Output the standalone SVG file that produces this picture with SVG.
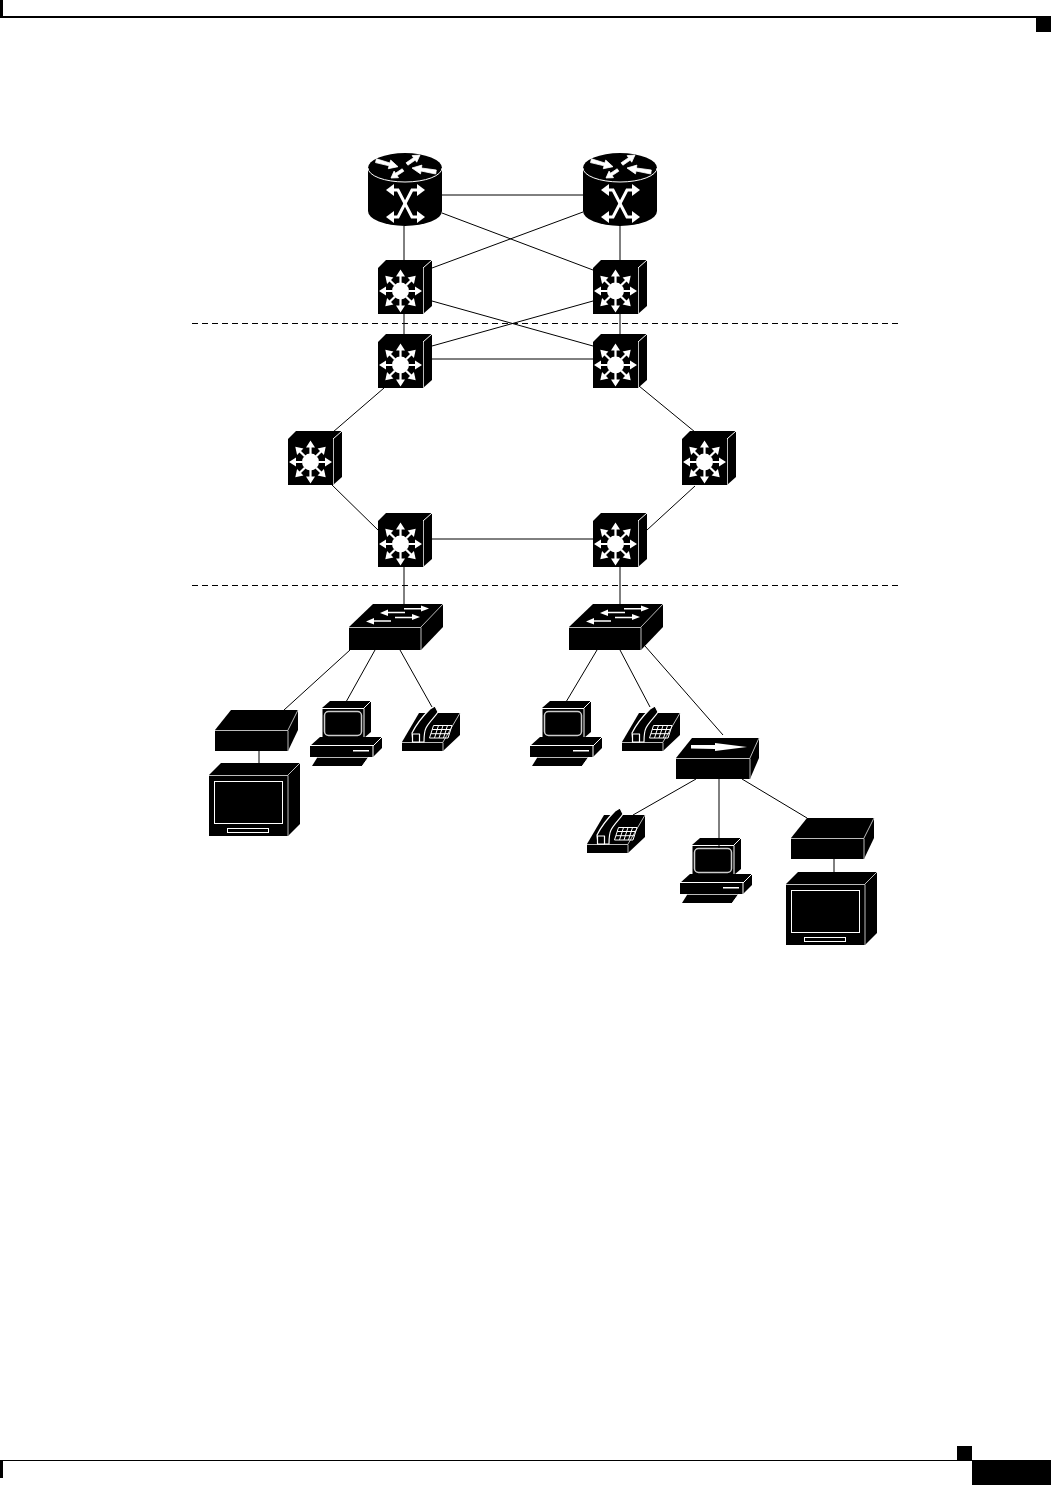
<svg xmlns="http://www.w3.org/2000/svg" xmlns:xlink="http://www.w3.org/1999/xlink" width="1051" height="1485" viewBox="0 0 1051 1485">
<style>
.c{stroke:#000;stroke-width:1;fill:none}
.d{stroke:#000;stroke-width:1;fill:none;stroke-dasharray:6 4}
.k{fill:#000}
.w{fill:#fff}
.ws{fill:#fff;stroke:#fff;stroke-width:0.800}
.o{fill:none;stroke:#fff;stroke-width:1}
.g{fill:none;stroke:#bbb;stroke-width:1}
.s{fill:none;stroke:#ccc;stroke-width:1.500}
.t{fill:none;stroke:#fff;stroke-width:3;stroke-linejoin:miter}
.h{fill:#000;stroke:#fff;stroke-width:1.200;stroke-linejoin:round}
</style>
<defs>
<path id="spoke" class="w" d="M-1.100,-8 V-14.500 H-4.500 L0,-21.500 L4.500,-14.500 H1.100 V-8 Z"/>
<g id="sw3">
<polygon class="k" points="0,0 8,-8 54,-8 54,38 45,46 0,46"/>
<path class="o" d="M45,0 L54,-8"/>
<path class="g" d="M45.500,0 V46"/>
<circle class="w" cx="22.500" cy="23" r="8.500"/>
<g transform="translate(22.500,23)">
<use href="#spoke" xlink:href="#spoke"/>
<use href="#spoke" xlink:href="#spoke" transform="rotate(45)"/>
<use href="#spoke" xlink:href="#spoke" transform="rotate(90)"/>
<use href="#spoke" xlink:href="#spoke" transform="rotate(135)"/>
<use href="#spoke" xlink:href="#spoke" transform="rotate(180)"/>
<use href="#spoke" xlink:href="#spoke" transform="rotate(225)"/>
<use href="#spoke" xlink:href="#spoke" transform="rotate(270)"/>
<use href="#spoke" xlink:href="#spoke" transform="rotate(315)"/>
</g>
</g>
<g id="router">
<path class="k" d="M0,15 A37,15 0 0 1 74,15 V58 A37,15 0 0 1 0,58 Z"/>
<path class="o" d="M0,15 A37,14 0 0 0 74,15"/>
<polygon class="ws" points="8.500,5.800 21.900,10 22.700,7.100 30,13.700 20.300,15.700 21.100,12.800 7.500,9.600"/>
<polygon class="ws" points="68.300,17 53.400,15 53.900,12.100 44,15 52.500,20.900 53,18 67.700,21"/>
<polygon class="ws" points="38.100,9.800 45.500,4.700 44.100,2.600 52,2 48.700,9.200 47.300,7.100 39.900,12.200"/>
<polygon class="ws" points="34.200,15.800 27.500,20.200 26.100,18.100 23,25 30.500,24.700 29.100,22.600 35.800,18.200"/>
<path class="t" d="M23,37 H30 L44,64 H51"/>
<path class="t" d="M51,37 H44 L30,64 H23"/>
<polygon class="w" points="18,37 26,31 26,43"/>
<polygon class="w" points="57,37 49,31 49,43"/>
<polygon class="w" points="18,64 26,58 26,70"/>
<polygon class="w" points="57,64 49,58 49,70"/>
</g>
<g id="access">
<polygon class="k" points="0,23 24,0 94,0 94,23 72,46 0,46"/>
<path class="g" d="M0,23.500 H72 V46 M72,23 L94,0"/>
<path class="w" d="M56,7.700 H39 V5.500 L31,9 L39,12 V9.300 H56 Z"/>
<path class="w" d="M55,4 H72 V1.500 L80,4.500 L72,7.500 V5.500 H55 Z"/>
<path class="w" d="M42,16.200 H25 V14 L17,17.500 L25,20.500 V17.800 H42 Z"/>
<path class="w" d="M46,12.700 H63 V10 L71,13 L63,16 V14.300 H46 Z"/>
</g>
<g id="stb">
<polygon class="k" points="0,20 16,0 83,0 83,20 73,41 0,41"/>
<path class="g" d="M0,20.500 H73 V41 M73,20 L83,0"/>
</g>
<g id="tv">
<polygon class="k" points="0,12 12,0 91,0 91,61 79,73 0,73"/>
<path class="g" d="M0,12.500 H79 V73 M79,12 L91,0"/>
<rect class="o" x="5.500" y="18.500" width="68" height="42"/>
<rect class="o" x="18.500" y="65.500" width="41" height="4"/>
</g>
<g id="pc">
<polygon class="k" points="12,0 20,-7 61,-7 61,24 54,30 12,30"/>
<path class="o" d="M12,0.500 H54 V30 H12 Z M54,0 L61,-7"/>
<rect x="14.500" y="3.500" width="37" height="24" rx="4" ry="4" class="s"/>
<polygon class="k" points="10,29 72,29 72,40 63,49 0,49 0,38"/>
<path class="o" d="M0,37.500 H63 V49 M63,38 L72,29"/>
<path class="k" d="M12,30 H54 V37 H12 Z"/>
<rect class="w" x="43" y="42" width="16" height="1.500"/>
<polygon class="k" points="7,50 58,50 52,58 2,58"/>
<path class="o" d="M2,58.500 H52 L58,50"/>
<path class="g" d="M7,49.500 H58"/>
</g>
<g id="phone">
<polygon class="k" points="0,29 17,0 58,0 58,22 41,38 0,38"/>
<path class="g" d="M0,29.500 H41 V38 M41,29 L58,0"/>
<path class="h" d="M11,29 L10,20 C14,12 22,2 28,-4 L33,-7 L36,-1 C33,4 27,9 24,15 C22,19 22,24 22,29 Z"/>
<path class="h" d="M10.500,21 H17.500 V29 H10.500 Z"/>
<g class="o">
<path d="M31.500,12.500 H50 L46,25 H27.500 Z"/>
<path d="M30.200,16.500 H48.700 M29,20.700 H47.500 M36.500,12.500 L32.500,25 M41,12.500 L37,25 M45.500,12.500 L41.500,25"/>
</g>
</g>
</defs>

<g id="page">
<rect class="k" x="0" y="16" width="1051" height="2"/>
<rect class="k" x="0" y="0" width="3" height="17"/>
<rect class="k" x="1036" y="18" width="15" height="14"/>
<rect class="k" x="0" y="1460" width="972" height="1"/>
<rect class="k" x="0" y="1460" width="3" height="18"/>
<rect class="k" x="957" y="1446" width="15" height="14"/>
<rect class="k" x="972" y="1460" width="79" height="25"/>
</g>

<g id="dividers">
<line class="d" x1="192" y1="323.500" x2="900" y2="323.500"/>
<line class="d" x1="192" y1="585.500" x2="900" y2="585.500"/>
</g>

<g id="n-router1"><use href="#router" xlink:href="#router" x="368" y="153"/></g>
<g id="n-router2"><use href="#router" xlink:href="#router" x="583" y="153"/></g>
<g id="n-sw-a"><use href="#sw3" xlink:href="#sw3" x="378" y="268"/></g>
<g id="n-sw-b"><use href="#sw3" xlink:href="#sw3" x="593" y="268"/></g>
<g id="n-sw-c"><use href="#sw3" xlink:href="#sw3" x="378" y="342"/></g>
<g id="n-sw-d"><use href="#sw3" xlink:href="#sw3" x="593" y="342"/></g>
<g id="n-sw-e"><use href="#sw3" xlink:href="#sw3" x="288" y="439"/></g>
<g id="n-sw-f"><use href="#sw3" xlink:href="#sw3" x="682" y="439"/></g>
<g id="n-sw-g"><use href="#sw3" xlink:href="#sw3" x="378" y="521"/></g>
<g id="n-sw-h"><use href="#sw3" xlink:href="#sw3" x="593" y="521"/></g>
<g id="n-access1"><use href="#access" xlink:href="#access" x="349" y="604"/></g>
<g id="n-access2"><use href="#access" xlink:href="#access" x="569" y="604"/></g>
<g id="n-stb1"><use href="#stb" xlink:href="#stb" x="215" y="710"/></g>
<g id="n-tv1"><use href="#tv" xlink:href="#tv" x="209" y="763"/></g>
<g id="n-pc1"><use href="#pc" xlink:href="#pc" x="310" y="708"/></g>
<g id="n-phone1"><use href="#phone" xlink:href="#phone" x="402" y="713"/></g>
<g id="n-pc2"><use href="#pc" xlink:href="#pc" x="530" y="708"/></g>
<g id="n-phone2"><use href="#phone" xlink:href="#phone" x="622" y="713"/></g>
<g id="n-proxy">
<polygon class="k" points="676,758 692,738 759,738 759,758 750,779 676,779"/>
<path class="g" d="M676,758.500 H750 V779 M750,758 L759,738"/>
<path class="w" d="M691,745 H715 V743 L747,747 L715,751 V749 L691,748.500 Z"/>
</g>
<g id="n-phone3"><use href="#phone" xlink:href="#phone" x="587" y="815"/></g>
<g id="n-pc3"><use href="#pc" xlink:href="#pc" x="680" y="845"/></g>
<g id="n-stb2"><use href="#stb" xlink:href="#stb" x="791" y="818"/></g>
<g id="n-tv2"><use href="#tv" xlink:href="#tv" x="786" y="872"/></g>

<g id="connectors">
<line class="c" x1="442" y1="195" x2="583" y2="195"/>
<line class="c" x1="442" y1="213" x2="593" y2="270"/>
<line class="c" x1="583" y1="212" x2="432" y2="268"/>
<line class="c" x1="404" y1="226" x2="404" y2="260"/>
<line class="c" x1="620" y1="226" x2="620" y2="260"/>
<line class="c" x1="404" y1="314" x2="404" y2="334"/>
<line class="c" x1="620" y1="314" x2="620" y2="334"/>
<line class="c" x1="432" y1="301" x2="593" y2="346"/>
<line class="c" x1="593" y1="301" x2="432" y2="346"/>
<line class="c" x1="432" y1="359" x2="593" y2="359"/>
<line class="c" x1="384" y1="388" x2="333" y2="432"/>
<line class="c" x1="331" y1="484" x2="379" y2="531"/>
<line class="c" x1="639" y1="386" x2="695" y2="432"/>
<line class="c" x1="695" y1="486" x2="647" y2="530"/>
<line class="c" x1="432" y1="539" x2="593" y2="539"/>
<line class="c" x1="404" y1="567" x2="404" y2="604"/>
<line class="c" x1="620" y1="567" x2="620" y2="604"/>
<line class="c" x1="350" y1="650" x2="284" y2="710"/>
<line class="c" x1="375" y1="650" x2="346" y2="702"/>
<line class="c" x1="400" y1="650" x2="432" y2="707"/>
<line class="c" x1="597" y1="650" x2="566" y2="702"/>
<line class="c" x1="620" y1="650" x2="650" y2="707"/>
<line class="c" x1="645" y1="646" x2="723" y2="735"/>
<line class="c" x1="259" y1="751" x2="259" y2="763"/>
<line class="c" x1="834" y1="859" x2="834" y2="872"/>
<line class="c" x1="696" y1="779" x2="633" y2="815"/>
<line class="c" x1="719" y1="779" x2="719" y2="848"/>
<line class="c" x1="742" y1="779" x2="807" y2="818"/>
</g>
</svg>
